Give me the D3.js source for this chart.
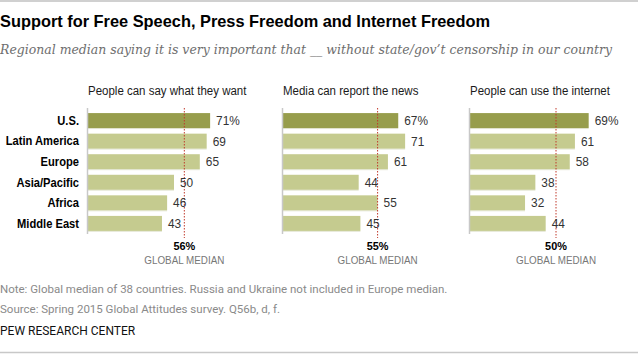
<!DOCTYPE html>
<html><head><meta charset="utf-8">
<script src="https://cdn.jsdelivr.net/npm/d3@7"></script>
<style>
body{margin:0;background:#fff;}
svg{display:block;}
</style></head>
<body>
<script>
const regions = ["U.S.", "Latin America", "Europe", "Asia/Pacific", "Africa", "Middle East"];
const panelTitles = ["People can say what they want", "Media can report the news", "People can use the internet"];
const speechValues = [71, 69, 65, 50, 46, 43];
const mediaValues = [67, 71, 61, 44, 55, 45];
const internetValues = [69, 61, 58, 38, 32, 44];
const globalMedians = [56, 55, 50];
const title = "Support for Free Speech, Press Freedom and Internet Freedom";
const subtitle = "Regional median saying it is very important that __ without state/gov\u2019t censorship in our country";
const notes = ["Note: Global median of 38 countries. Russia and Ukraine not included in Europe median.",
  "Source: Spring 2015 Global Attitudes survey. Q56b, d, f."];
const credit = "PEW RESEARCH CENTER";

const W = 638, H = 355;
const SANS = "'Liberation Sans', Arial, sans-serif";
const svg = d3.select("body").append("svg").attr("width", W).attr("height", H);

// condensed text helper: places text at (x,y) with horizontal squeeze k
function ctext(parent, x, y, str, k) {
  return parent.append("text")
    .attr("transform", `translate(${x},${y}) scale(${k},1)`)
    .attr("font-family", SANS).text(str);
}

svg.append("line").attr("x1",0).attr("x2",W).attr("y1",1).attr("y2",1).attr("stroke","#d0d0d0").attr("stroke-width",2);
svg.append("line").attr("x1",0).attr("x2",W).attr("y1",352.5).attr("y2",352.5).attr("stroke","#c8c8c8").attr("stroke-width",1.5);

svg.append("text").attr("x",0).attr("y",27).text(title)
  .attr("font-family",SANS).attr("font-weight","bold").attr("font-size",16.5).attr("fill","#000")
  .attr("textLength",490).attr("lengthAdjust","spacingAndGlyphs");
svg.append("text").attr("x",0).attr("y",54).text(subtitle)
  .attr("font-family","'DejaVu Serif', Georgia, serif").attr("font-style","italic").attr("font-size",13).attr("fill","#6e6e6e")
  .attr("textLength",612).attr("lengthAdjust","spacingAndGlyphs");

const panelX = [88, 283, 470];
const panelData = [speechValues, mediaValues, internetValues];
const x = d3.scaleLinear().domain([0, 100]).range([0, 172]);
const y = d3.scaleBand().domain(regions).range([110, 234]).paddingInner(0.27).paddingOuter(0.15);

// region labels
regions.forEach(r => {
  ctext(svg, 79, y(r) + y.bandwidth()/2 + 4.3, r, 0.93)
    .attr("text-anchor","end").attr("font-weight","bold").attr("font-size",12).attr("fill","#000");
});

panelData.forEach((vals, i) => {
  const g = svg.append("g").attr("transform", `translate(${panelX[i]},0)`);
  ctext(g, 0, 94.5, panelTitles[i], 0.92).attr("font-size",12.5).attr("fill","#1a1a1a");
  g.selectAll("line.sh").data(vals).join("line").attr("class","sh")
    .attr("x1", 0).attr("x2", d => x(d))
    .attr("y1", (d,j) => y(regions[j]) + y.bandwidth() + 0.5)
    .attr("y2", (d,j) => y(regions[j]) + y.bandwidth() + 0.5)
    .attr("stroke","#e6e8d8").attr("stroke-width",1);
  g.selectAll("rect.bar").data(vals).join("rect").attr("class","bar")
    .attr("x", 0).attr("y", (d,j) => y(regions[j]))
    .attr("width", d => x(d)).attr("height", y.bandwidth())
    .attr("fill", (d,j) => j === 0 ? "#979d4c" : "#c5cb8f");
  g.append("line").attr("x1",-0.5).attr("x2",-0.5).attr("y1",108).attr("y2",234)
    .attr("stroke","#c8c8c8").attr("stroke-width",1.5);
  const mx = x(globalMedians[i]);
  g.append("line").attr("x1",mx).attr("x2",mx).attr("y1",108).attr("y2",238)
    .attr("stroke","#c0392b").attr("stroke-width",1).attr("stroke-dasharray","1.5,1.5");
  vals.forEach((d, j) => {
    ctext(g, x(d) + 6, y(regions[j]) + y.bandwidth()/2 + 4.5, j === 0 ? d + "%" : String(d), 0.95)
      .attr("font-size",12.5).attr("fill","#333");
  });
  ctext(g, mx, 250, globalMedians[i] + "%", 0.95)
    .attr("text-anchor","middle").attr("font-weight","bold").attr("font-size",11.5).attr("fill","#000");
  g.append("text").attr("x",mx - 40).attr("y",264)
    .attr("font-family",SANS).attr("font-size",10.5).attr("fill","#777")
    .attr("textLength",80).attr("lengthAdjust","spacingAndGlyphs")
    .text("GLOBAL MEDIAN");
});

svg.append("g").selectAll("text").data(notes).join("text")
  .attr("x",0).attr("y",(d,i) => 293 + i*20).text(d => d)
  .attr("font-family","Roboto, " + SANS).attr("font-size",11.5).attr("fill","#8a8a8a");
svg.append("text").attr("x",0).attr("y",335).text(credit)
  .attr("font-family","Roboto, " + SANS).attr("font-size",12).attr("fill","#111");
</script>
</body></html>
